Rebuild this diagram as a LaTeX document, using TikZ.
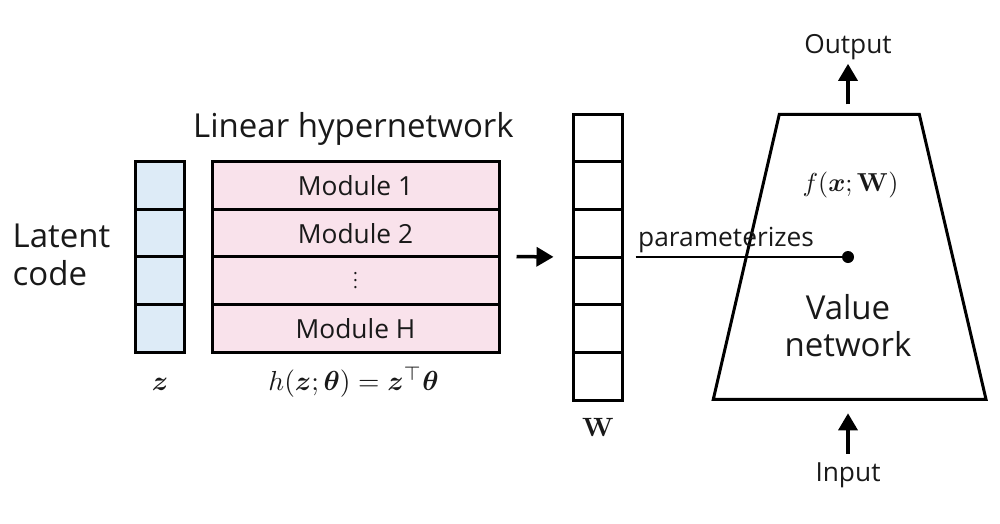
\documentclass[tikz,border=0pt]{standalone}
\usepackage{amsmath,bm}
\usepackage{graphicx}
\usepackage[no-math]{fontspec}
\setmainfont{Open Sans}
\usetikzlibrary{arrows.meta}
\definecolor{zblue}{RGB}{221,235,247}
\definecolor{hpink}{RGB}{249,226,235}
\definecolor{txt}{RGB}{25,25,25}
\newcommand{\mymath}[2]{\scalebox{#1}{$#2$}}
\tikzset{
  bigtxt/.style={font=\fontsize{33}{38}\selectfont, text=txt, inner sep=0pt},
  midtxt/.style={font=\fontsize{26.3}{30}\selectfont, text=txt, inner sep=0pt},
  mathtxt/.style={text=txt, inner sep=0pt},
  cellbox/.style={draw, line width=3pt, inner sep=0pt},
  divider/.style={line width=3pt},
  arr/.style={line width=3.5pt, -{Triangle[length=17pt,width=19pt]}},
}
\begin{document}
\begin{tikzpicture}[x=1pt,y=-1pt]
\useasboundingbox (0,0) rectangle (1000,523);
% latent code column
\node[cellbox, fill=zblue, minimum width=49pt, minimum height=191pt] (zcol) at (159.5,256.5) {};
\foreach \yy in {209,256.7,304.5} \draw[divider] (135,\yy) -- (184,\yy);
% hypernetwork
\node[cellbox, fill=hpink, minimum width=287pt, minimum height=191pt] (hyper) at (355.5,256.5) {};
\foreach \yy in {209,256.7,304.5} \draw[divider] (212,\yy) -- (499,\yy);
\node[midtxt] (m1) at (355.5,186) {Module 1};
\node[midtxt] (m2) at (355.5,233.5) {Module 2};
\node[mathtxt, anchor=base] (mdots) at (355.5,288.5) {\scalebox{1.8}{$\vdots$}};
\node[midtxt] (mh) at (355.5,329) {Module H};
\node[bigtxt, anchor=base] (hlab) at (353.5,137.7) {Linear hypernetwork};
\node[bigtxt, anchor=base west] (lat1) at (12.5,247.7) {Latent};
\node[bigtxt, anchor=base west] (lat2) at (12.5,285.7) {code};
\node[mathtxt, anchor=base] (zlab) at (160,390.5) {\mymath{2.75}{\bm{z}}};
\node[mathtxt, anchor=base] (hform) at (353.5,390.5) {\mymath{2.75}{h(\bm{z};\bm{\theta}) = \bm{z}^{\top}\bm{\theta}}};
% W column
\node[cellbox, minimum width=49pt, minimum height=286pt] (wcol) at (597.5,257) {};
\foreach \yy in {161.7,209.3,257,304.7,352.3} \draw[divider] (573,\yy) -- (622,\yy);
\node[mathtxt, anchor=base] (wlab) at (598,436) {\mymath{2.65}{\mathbf{W}}};
\draw[arr, shorten <=16pt, shorten >=18pt] (hyper.east) -- (wcol.west);
% value network trapezoid
\coordinate (tl) at (779.3,114.3);
\coordinate (tr) at (919.3,114.3);
\coordinate (br) at (986,399.3);
\coordinate (bl) at (713.3,399.3);
\coordinate (ttop) at (848,114.3);
\coordinate (tbot) at (848,399.3);
\draw[line width=3pt, line join=miter] (tl) -- (tr) -- (br) -- (bl) -- cycle;
\node[mathtxt, anchor=base] (flab) at (850.5,191.5) {\mymath{2.6}{f(\bm{x};\mathbf{W})}};
\node[bigtxt, anchor=base] (val1) at (848,319) {Value};
\node[bigtxt, anchor=base] (val2) at (848,356) {network};
\node[circle, fill=black, minimum size=12pt, inner sep=0pt] (dot) at (848,257) {};
\draw[line width=2.5pt, shorten <=12pt] (wcol.east) -- (dot.center);
\node[midtxt, anchor=base west] (param) at (638,246.5) {parameterizes};
% output / input
\node[midtxt, anchor=base] (outp) at (848,53.3) {Output};
\node[midtxt, anchor=base] (inp) at (848,481.7) {Input};
\draw[arr, shorten <=10pt, shorten >=4pt] (ttop) -- (outp.south);
\draw[arr, shorten <=9pt, shorten >=14pt] (inp.north) -- (tbot);
\end{tikzpicture}
\end{document}
